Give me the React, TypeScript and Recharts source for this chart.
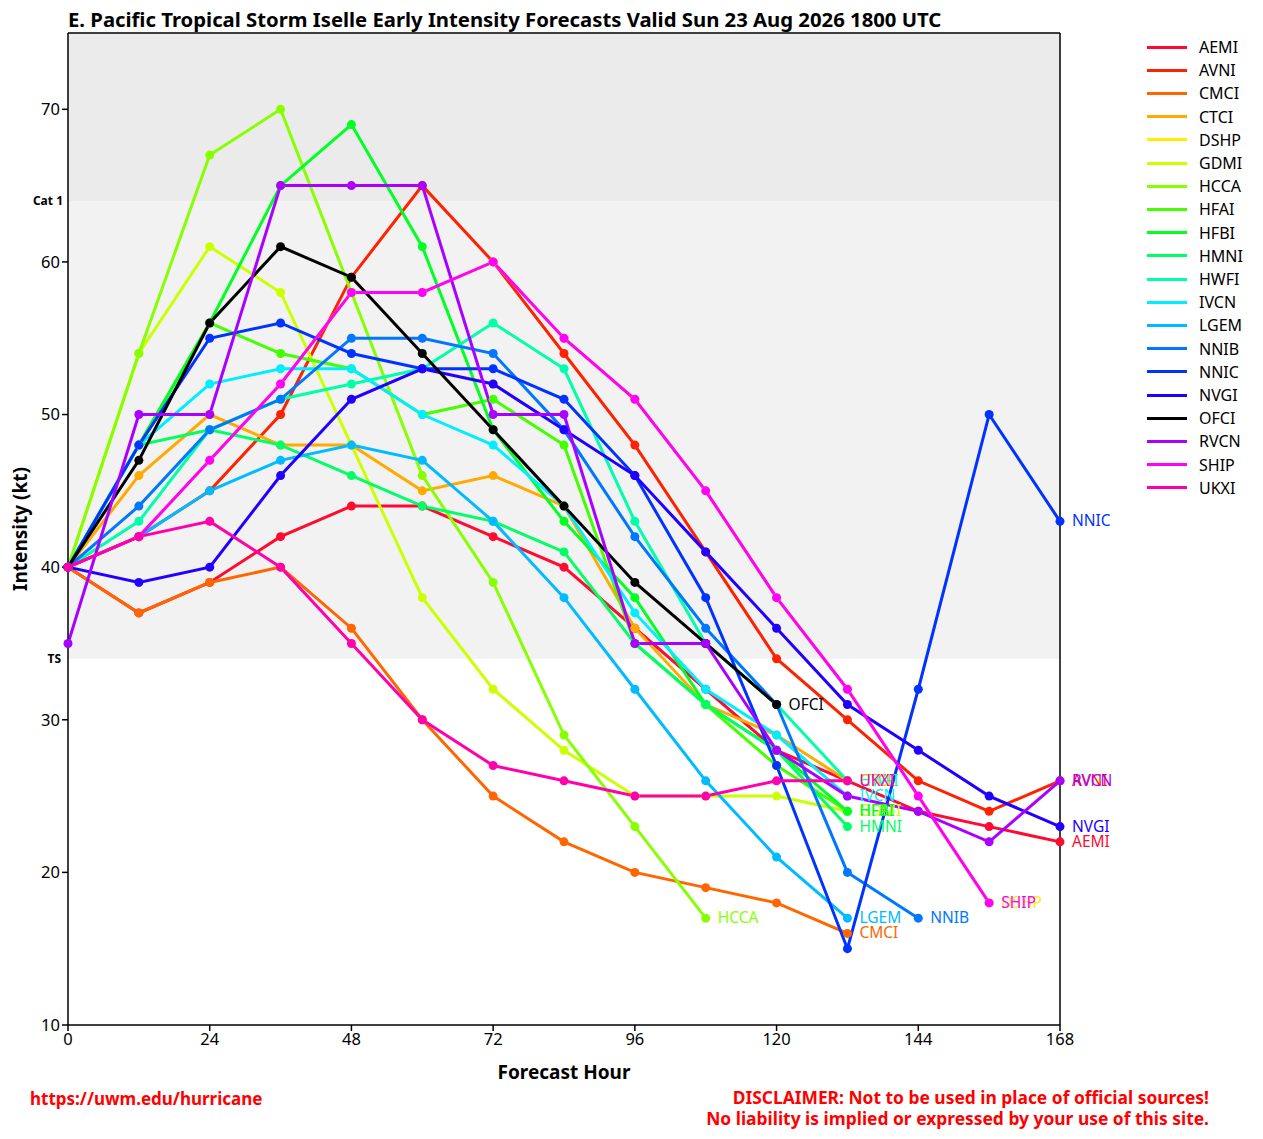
import { LineChart, Line, XAxis, YAxis, ReferenceArea, ReferenceLine } from "recharts";

const hours = [0, 12, 24, 36, 48, 60, 72, 84, 96, 108, 120, 132, 144, 156, 168];
const xTicks = [0, 24, 48, 72, 96, 120, 144, 168];
const yTicks = [10, 20, 30, 40, 50, 60, 70];

const AEMI = [40, 37, 39, 42, 44, 44, 42, 40, 36, 32, 28, 26, 24, 23, 22];
const AVNI = [40, 42, 45, 50, 59, 65, 60, 54, 48, 41, 34, 30, 26, 24, 26];
const CMCI = [40, 37, 39, 40, 36, 30, 25, 22, 20, 19, 18, 16, null, null, null];
const CTCI = [40, 46, 50, 48, 48, 45, 46, 44, 36, 31, 29, 26, null, null, null];
const DSHP = [40, 42, 47, 52, 58, 58, 60, 55, 51, 45, 38, 32, 25, 18, null];
const GDMI = [40, 54, 61, 58, 48, 38, 32, 28, 25, 25, 25, 24, null, null, null];
const HCCA = [40, 54, 67, 70, 58, 46, 39, 29, 23, 17, null, null, null, null, null];
const HFAI = [40, 48, 56, 54, 53, 50, 51, 48, 35, 31, 27, 24, null, null, null];
const HFBI = [40, 48, 56, 65, 69, 61, 49, 43, 38, 31, 28, 24, null, null, null];
const HMNI = [40, 48, 49, 48, 46, 44, 43, 41, 35, 31, 28, 23, null, null, null];
const HWFI = [40, 43, 49, 51, 52, 53, 56, 53, 43, 35, 31, 26, null, null, null];
const IVCN = [40, 48, 52, 53, 53, 50, 48, 44, 37, 32, 29, 25, null, null, null];
const LGEM = [40, 42, 45, 47, 48, 47, 43, 38, 32, 26, 21, 17, null, null, null];
const NNIB = [40, 44, 49, 51, 55, 55, 54, 49, 42, 36, 31, 20, 17, null, null];
const NNIC = [40, 48, 55, 56, 54, 53, 53, 51, 46, 38, 27, 15, 32, 50, 43];
const NVGI = [40, 39, 40, 46, 51, 53, 52, 49, 46, 41, 36, 31, 28, 25, 23];
const OFCI = [40, 47, 56, 61, 59, 54, 49, 44, 39, 35, 31, null, null, null, null];
const RVCN = [35, 50, 50, 65, 65, 65, 50, 50, 35, 35, 28, 25, 24, 22, 26];
const SHIP = [40, 42, 47, 52, 58, 58, 60, 55, 51, 45, 38, 32, 25, 18, null];
const UKXI = [40, 42, 43, 40, 35, 30, 27, 26, 25, 25, 26, 26, null, null, null];

const models = [
  { name: "AEMI", color: "#ff0a30", values: AEMI },
  { name: "AVNI", color: "#ff2200", values: AVNI },
  { name: "CMCI", color: "#ff6600", values: CMCI },
  { name: "CTCI", color: "#ffaa00", values: CTCI },
  { name: "DSHP", color: "#ffee00", values: DSHP },
  { name: "GDMI", color: "#ccff00", values: GDMI },
  { name: "HCCA", color: "#88ff00", values: HCCA },
  { name: "HFAI", color: "#44ff00", values: HFAI },
  { name: "HFBI", color: "#00ff22", values: HFBI },
  { name: "HMNI", color: "#00ff66", values: HMNI },
  { name: "HWFI", color: "#00ffaa", values: HWFI },
  { name: "IVCN", color: "#00eeff", values: IVCN },
  { name: "LGEM", color: "#00bbff", values: LGEM },
  { name: "NNIB", color: "#0077ff", values: NNIB },
  { name: "NNIC", color: "#0033ff", values: NNIC },
  { name: "NVGI", color: "#2200ff", values: NVGI },
  { name: "OFCI", color: "#000000", values: OFCI },
  { name: "RVCN", color: "#aa00ff", values: RVCN },
  { name: "SHIP", color: "#ff00ff", values: SHIP },
  { name: "UKXI", color: "#ff00aa", values: UKXI },
];

const data = hours.map((h, i) => {
  const row: Record<string, number | null> = { hour: h };
  models.forEach(m => { row[m.name] = m.values[i]; });
  return row;
});

const FONT = "'Noto Sans', 'Open Sans', sans-serif";

function lastIndex(values: (number | null)[]) {
  let last = 0;
  values.forEach((v, i) => { if (v !== null) last = i; });
  return last;
}

// name tag next to the last point of each model
const endLabel = (name: string, color: string, last: number) => (props: any) => {
  if (props.index !== last) return null;
  return (
    <text x={props.x + 12} y={props.y} dy={5} fill={color} fontSize={15.5} fontFamily={FONT}>
      {name}
    </text>
  );
};

export default function App() {
  return (
    <div style={{ position: "absolute", left: 0, top: 0, width: 1263, height: 1139, background: "#fff", fontFamily: FONT }}>
      <div style={{ position: "absolute", left: 68, top: 5, fontSize: 20.3, fontWeight: "bold", whiteSpace: "nowrap" }}>
        E. Pacific Tropical Storm Iselle Early Intensity Forecasts Valid Sun 23 Aug 2026 1800 UTC
      </div>
      <LineChart width={1263} height={1139} data={data} margin={{ top: 33, right: 203, bottom: 84, left: 8 }} style={{ fontFamily: FONT }}>
        <ReferenceArea y1={64} y2={75} fill="#ebebeb" fillOpacity={1} stroke="none" />
        <ReferenceArea y1={34} y2={64} fill="#f2f2f2" fillOpacity={1} stroke="none" />
        <ReferenceLine y={64} stroke="none" label={{ value: "Cat 1", position: "left", offset: 5, fontSize: 12, fontWeight: "bold", fill: "#000" }} />
        <ReferenceLine y={34} stroke="none" label={{ value: "TS", position: "left", offset: 7, fontSize: 12, fontWeight: "bold", fill: "#000" }} />
        <ReferenceLine y={75} stroke="#000" strokeWidth={1.5} />
        <ReferenceLine x={168} stroke="#000" strokeWidth={1.5} />
        <XAxis
          dataKey="hour"
          type="number"
          domain={[0, 168]}
          ticks={xTicks}
          height={30}
          stroke="#000"
          strokeWidth={1.5}
          tickSize={6}
          tick={{ fill: "#000", fontSize: 16.5 }}
          label={{ value: "Forecast Hour", position: "insideBottom", offset: -24, fontSize: 19, fontWeight: "bold", fill: "#000" }}
        />
        <YAxis
          type="number"
          domain={[10, 75]}
          ticks={yTicks}
          width={60}
          stroke="#000"
          strokeWidth={1.5}
          tickSize={6}
          tick={{ fill: "#000", fontSize: 16.5 }}
          label={{ value: "Intensity (kt)", angle: -90, position: "insideLeft", offset: 12, style: { textAnchor: "middle" }, fontSize: 19, fontWeight: "bold", fill: "#000" }}
        />
        {models.map(m => (
          <Line
            key={m.name}
            dataKey={m.name}
            stroke={m.color}
            strokeWidth={3}
            dot={{ r: 4.5, fill: m.color, stroke: m.color, strokeWidth: 0 }}
            activeDot={false}
            isAnimationActive={false}
            label={endLabel(m.name, m.color, lastIndex(m.values))}
          />
        ))}
      </LineChart>
      <div style={{ position: "absolute", left: 1140, top: 35 }}>
        {models.map((m, i) => (
          <div key={m.name} style={{ position: "absolute", left: 0, top: i * 23.2, height: 24, width: 120, display: "flex", alignItems: "center" }}>
            <div style={{ width: 40, height: 3, background: m.color, marginLeft: 7 }} />
            <span style={{ marginLeft: 12, fontSize: 16, color: "#000" }}>{m.name}</span>
          </div>
        ))}
      </div>
      <div style={{ position: "absolute", left: 30, top: 1087, fontSize: 17, fontWeight: "bold", color: "#ff0000" }}>
        https://uwm.edu/hurricane
      </div>
      <div style={{ position: "absolute", right: 54, top: 1087, fontSize: 17.4, fontWeight: "bold", color: "#ff0000", textAlign: "right", lineHeight: "21px" }}>
        DISCLAIMER: Not to be used in place of official sources!
        <br />
        No liability is implied or expressed by your use of this site.
      </div>
    </div>
  );
}
